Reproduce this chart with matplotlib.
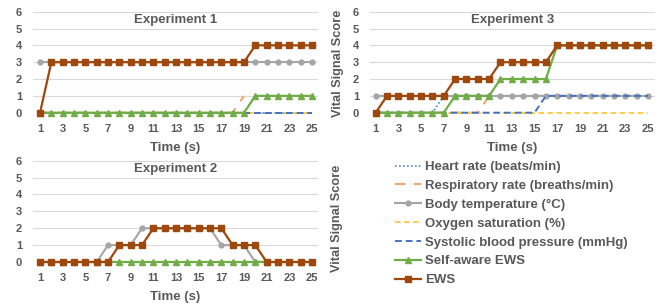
import numpy as np
import matplotlib
matplotlib.use('Agg')
import matplotlib.pyplot as plt

plt.rcParams['font.family'] = ['Liberation Sans', 'DejaVu Sans']
plt.rcParams['font.weight'] = 'bold'

# time axis
t = np.arange(1, 26)
nan = np.nan

# Experiment 1
e1_heart = [0]*25
e1_resp = [0]*18 + [1] + [nan]*6
e1_temp = [3]*25
e1_oxy = [0]*25
e1_sys = [0]*25
e1_self = [0]*19 + [1]*6
e1_ews = [0] + [3]*18 + [4]*6

# Experiment 2
e2_heart = [0]*25
e2_resp = [0]*25
e2_temp = [0]*6 + [1, 1, 1] + [2]*7 + [1, 1, 1] + [0]*6
e2_oxy = [0]*25
e2_sys = [0]*25
e2_self = [0]*25
e2_ews = [0]*7 + [1]*3 + [2]*7 + [1]*3 + [0]*5

# Experiment 3
e3_heart = [0]*6 + [1]*19
e3_resp = [0]*10 + [1]*15
e3_temp = [1]*25
e3_oxy = [0]*25
e3_sys = [0]*15 + [1]*10
e3_self = [0]*7 + [1]*4 + [2]*5 + [4]*9
e3_ews = [0] + [1]*6 + [2]*4 + [3]*5 + [4]*9

labels = ['Heart rate (beats/min)', 'Respiratory rate (breaths/min)',
          'Body temperature (°C)', 'Oxygen saturation (%)',
          'Systolic blood pressure (mmHg)', 'Self-aware EWS', 'EWS']

grey = '#595959'
W, H = 665, 305
fig = plt.figure(figsize=(W/100, H/100), dpi=100)


def px_axes(left, top, right, bottom):
    return fig.add_axes([left/W, 1 - bottom/H, (right-left)/W, (bottom-top)/H])


def draw(ax, data, title, xlim):
    heart, resp, temp, oxy, sys_, selfa, ews = data
    h = []
    h += ax.plot(t, heart, color='#5B9BD5', ls=(0, (1, 1.2)), lw=1.3)
    h += ax.plot(t, resp, color='#F4A46E', ls=(0, (5, 4)), lw=1.5)
    h += ax.plot(t, temp, color='#A5A5A5', lw=1.5, marker='o', ms=3.5)
    h += ax.plot(t, oxy, color='#FFC93C', ls=(0, (3, 2)), lw=1.3)
    h += ax.plot(t, sys_, color='#4472C4', ls=(0, (3.5, 2)), lw=1.4)
    h += ax.plot(t, selfa, color='#70AD47', lw=1.6, marker='^', ms=4.2)
    h += ax.plot(t, ews, color='#9E480E', lw=1.6, marker='s', ms=4.5)
    for ln in h:
        ln.set_clip_on(False)
    ax.set_xlim(*xlim)
    ax.set_ylim(0, 6)
    ax.set_xticks(np.arange(1, 26, 2))
    ax.set_yticks(range(7))
    ax.tick_params(length=0, labelsize=8, labelcolor=grey, pad=8)
    ax.tick_params(axis='y', pad=8)
    for lab in ax.get_xticklabels() + ax.get_yticklabels():
        lab.set_fontweight('bold')
    for s in ax.spines.values():
        s.set_visible(False)
    ax.grid(axis='y', color='#D9D9D9', lw=0.8)
    ax.set_axisbelow(True)
    ax.set_xlabel('Time (s)', fontsize=9.5, color=grey, labelpad=6,
                  fontweight='bold')
    ax.text(0.5, 5.5/6, title, transform=ax.transAxes, ha='center', va='center',
            fontsize=9.5, color=grey, fontweight='bold')
    return h


ax1 = px_axes(33, 11.7, 318, 112.7)
draw(ax1, [e1_heart, e1_resp, e1_temp, e1_oxy, e1_sys, e1_self, e1_ews],
     'Experiment 1', (0.38, 25.53))

ax3 = px_axes(370, 11.7, 655, 112.7)
handles = draw(ax3, [e3_heart, e3_resp, e3_temp, e3_oxy, e3_sys, e3_self, e3_ews],
               'Experiment 3', (0.5, 25.62))

ax2 = px_axes(33, 160.7, 318, 262)
draw(ax2, [e2_heart, e2_resp, e2_temp, e2_oxy, e2_sys, e2_self, e2_ews],
     'Experiment 2', (0.38, 25.53))

fig.text(338/W, 1 - 63/H, 'Vital Signal Score', rotation=90, ha='center',
         va='center', fontsize=9.2, color=grey, fontweight='bold')
fig.text(337/W, 1 - 218/H, 'Vital Signal Score', rotation=90, ha='center',
         va='center', fontsize=9.2, color=grey, fontweight='bold')

leg = fig.legend(handles, labels, loc='upper left',
                 bbox_to_anchor=(395/W, 1 - 161/H), frameon=False,
                 prop={'size': 9.5, 'weight': 'bold'}, handlelength=2.0,
                 handletextpad=0.25, labelspacing=0.5, borderaxespad=0,
                 borderpad=0)
for txt in leg.get_texts():
    txt.set_color(grey)

fig.savefig('out.png', dpi=100)
